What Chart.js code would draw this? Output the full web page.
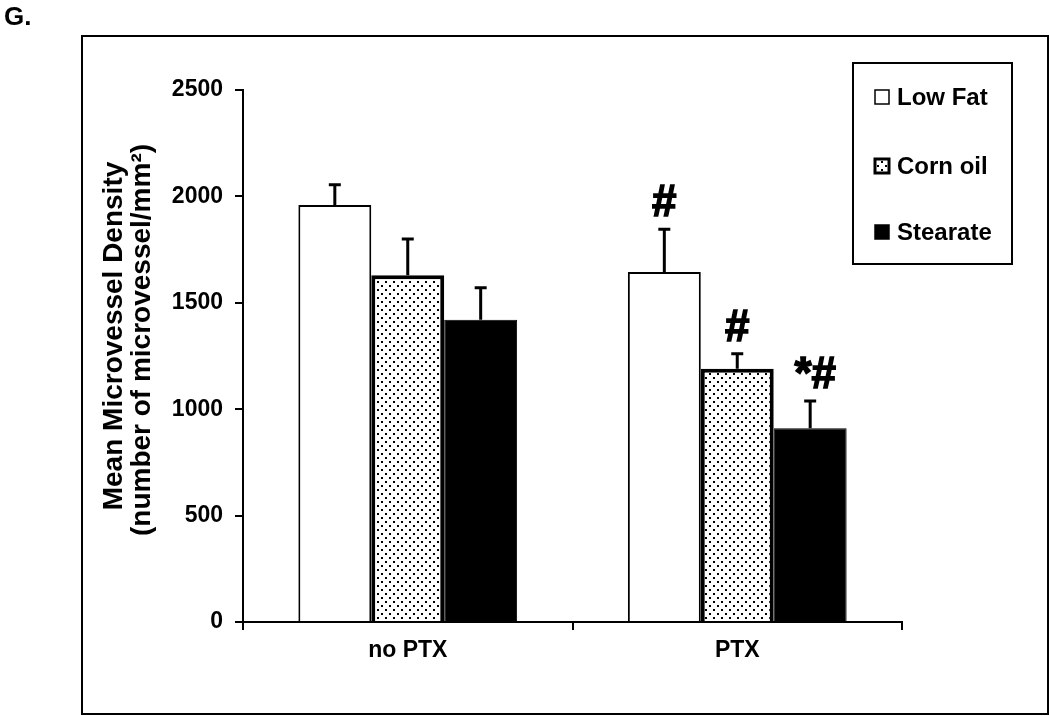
<!DOCTYPE html>
<html>
<head>
<meta charset="utf-8">
<script src="https://cdn.jsdelivr.net/npm/chart.js@4"></script>
<style>
  body { margin: 0; background: #fff; }
  canvas { display: block; }
</style>
</head>
<body>
<canvas id="chart" width="1050" height="716"></canvas>
<script>
const categories = ["no PTX", "PTX"];
const seriesNames = ["Low Fat", "Corn oil", "Stearate"];

const lowFat = [1960, 1645];
const cornOil = [1630, 1190];
const stearate = [1420, 910];

const lowFatErr = [100, 205];
const cornOilErr = [175, 75];
const stearateErr = [155, 133];

// significance marks above the error bars
const lowFatMarks = ["", "#"];
const cornOilMarks = ["", "#"];
const stearateMarks = ["", "*#"];

const yTicks = [0, 500, 1000, 1500, 2000, 2500];
const yTitle = ["Mean Microvessel Density", "(number of microvessel/mm\u00b2)"];
const panelLabel = "G.";

const FONT = "'Liberation Sans', Arial, sans-serif";

// dotted fill for corn oil
function makeDots() {
  const c = document.createElement("canvas");
  c.width = 8;
  c.height = 8;
  const g = c.getContext("2d");
  g.fillStyle = "#fff";
  g.fillRect(0, 0, 8, 8);
  g.fillStyle = "#000";
  g.fillRect(1, 1, 2, 2);
  g.fillRect(5, 5, 2, 2);
  return document.getElementById("chart").getContext("2d").createPattern(c, "repeat");
}
const dots = makeDots();

const errorBars = {
  id: "errorBars",
  afterDatasetsDraw(chart) {
    const ctx = chart.ctx;
    const y = chart.scales.y;
    ctx.save();
    chart.data.datasets.forEach((ds, i) => {
      const meta = chart.getDatasetMeta(i);
      meta.data.forEach((bar, j) => {
        const top = y.getPixelForValue(ds.data[j] + ds.errors[j]);
        ctx.strokeStyle = "#000";
        ctx.lineWidth = 3;
        ctx.beginPath();
        ctx.moveTo(bar.x, bar.y);
        ctx.lineTo(bar.x, top);
        ctx.moveTo(bar.x - 6, top + 1);
        ctx.lineTo(bar.x + 6, top + 1);
        ctx.stroke();
        const mark = ds.marks[j];
        if (mark) {
          ctx.fillStyle = "#000";
          ctx.strokeStyle = "#000";
          ctx.lineWidth = 1.5;
          ctx.font = "bold 44px " + FONT;
          ctx.textAlign = "center";
          ctx.textBaseline = "alphabetic";
          const tx = bar.x + (mark.length > 1 ? 5 : 0);
          ctx.fillText(mark, tx, top - 12);
          ctx.strokeText(mark, tx, top - 12);
        }
      });
    });
    ctx.restore();
  },
};

const decorations = {
  id: "decorations",
  afterDraw(chart) {
    const ctx = chart.ctx;
    ctx.save();
    // outer frame
    ctx.strokeStyle = "#000";
    ctx.lineWidth = 2;
    ctx.strokeRect(82, 36, 966, 678);

    // panel letter
    ctx.fillStyle = "#000";
    ctx.font = "bold 26px " + FONT;
    ctx.textAlign = "left";
    ctx.textBaseline = "alphabetic";
    ctx.fillText(panelLabel, 4, 25);

    // y title
    ctx.font = "bold 28px " + FONT;
    ctx.textAlign = "center";
    ctx.save();
    ctx.translate(122, 336);
    ctx.rotate(-Math.PI / 2);
    ctx.fillText(yTitle[0], 0, 0);
    ctx.restore();
    ctx.save();
    ctx.translate(150, 340);
    ctx.rotate(-Math.PI / 2);
    ctx.fillText(yTitle[1], 0, 0);
    ctx.restore();

    // legend
    ctx.lineWidth = 2;
    ctx.strokeRect(853, 63, 159, 201);
    const rows = [97, 166, 232];
    chart.data.datasets.forEach((ds, i) => {
      const cy = rows[i];
      ctx.fillStyle = ds.backgroundColor;
      ctx.fillRect(875, cy - 7, 14, 14);
      ctx.lineWidth = i === 1 ? 3 : 1.5;
      ctx.strokeStyle = "#000";
      ctx.strokeRect(875, cy - 7, 14, 14);
      ctx.fillStyle = "#000";
      ctx.font = "bold 24px " + FONT;
      ctx.textAlign = "left";
      ctx.textBaseline = "middle";
      ctx.fillText(ds.label, 897, cy + 1);
    });
    ctx.restore();
  },
};

new Chart(document.getElementById("chart"), {
  type: "bar",
  data: {
    labels: categories,
    datasets: [
      {
        label: seriesNames[0],
        data: lowFat,
        errors: lowFatErr,
        marks: lowFatMarks,
        backgroundColor: "#fff",
        borderColor: "#000",
        borderWidth: 2,
      },
      {
        label: seriesNames[1],
        data: cornOil,
        errors: cornOilErr,
        marks: cornOilMarks,
        backgroundColor: dots,
        borderColor: "#000",
        borderWidth: 4,
      },
      {
        label: seriesNames[2],
        data: stearate,
        errors: stearateErr,
        marks: stearateMarks,
        backgroundColor: "#000",
        borderColor: "#000",
        borderWidth: 1,
      },
    ],
  },
  options: {
    responsive: false,
    animation: false,
    devicePixelRatio: 1,
    categoryPercentage: 0.664,
    barPercentage: 1,
    layout: { padding: { left: 0, right: 148, top: 90, bottom: 0 } },
    plugins: {
      legend: { display: false },
      tooltip: { enabled: false },
    },
    scales: {
      x: {
        grid: {
          drawOnChartArea: false,
          tickLength: 8,
          color: "#000",
          lineWidth: 2,
        },
        border: { color: "#000", width: 2 },
        ticks: {
          color: "#000",
          padding: 7,
          font: { family: FONT, size: 23, weight: "bold" },
        },
        afterFit: (scale) => {
          scale.height = 94;
        },
      },
      y: {
        min: 0,
        max: 2500,
        afterBuildTicks: (scale) => {
          scale.ticks = yTicks.map((v) => ({ value: v }));
        },
        grid: {
          drawOnChartArea: false,
          tickLength: 8,
          color: "#000",
          lineWidth: 2,
        },
        border: { color: "#000", width: 2 },
        ticks: {
          color: "#000",
          padding: 12,
          font: { family: FONT, size: 23, weight: "bold" },
          callback: (v) => String(v),
        },
        afterFit: (scale) => {
          scale.width = 243;
        },
      },
    },
  },
  plugins: [errorBars, decorations],
});
</script>
</body>
</html>
